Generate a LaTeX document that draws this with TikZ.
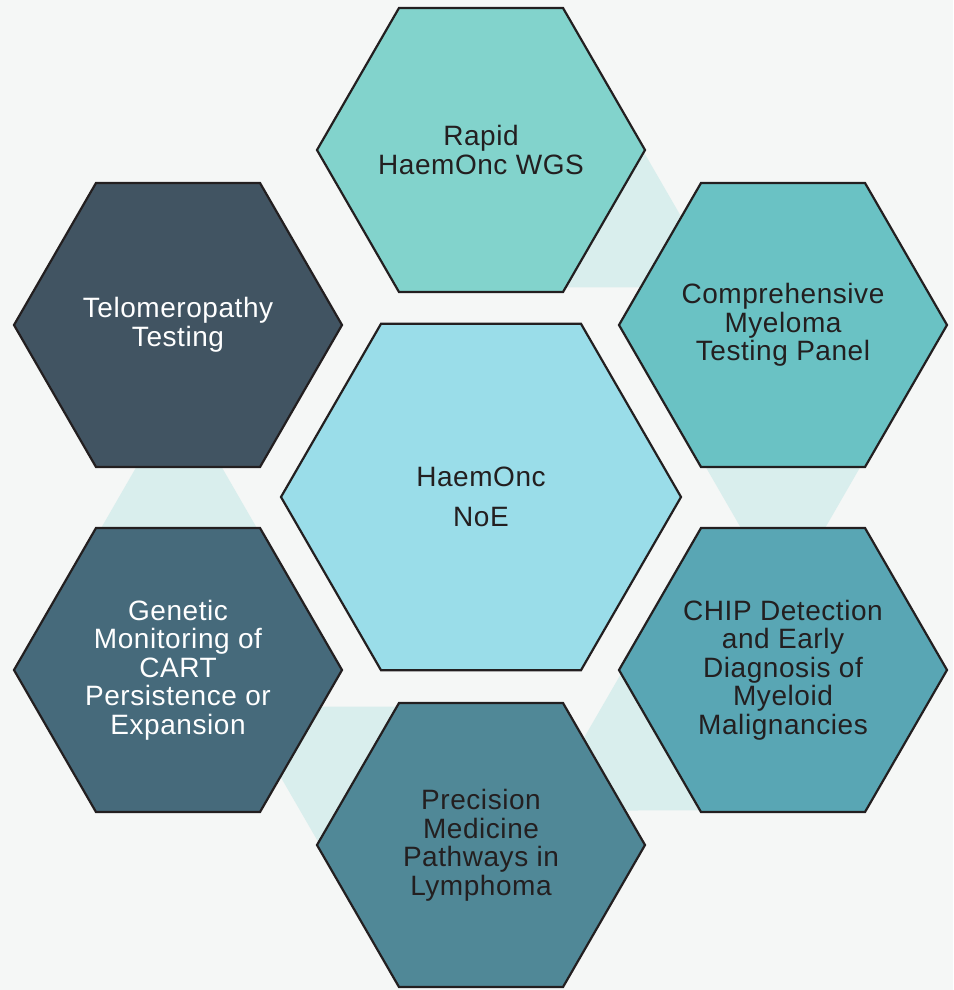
\documentclass[tikz,border=0pt]{standalone}
\usepackage{fontspec}
\setmainfont{Liberation Sans}[LetterSpace=2]
\definecolor{bgc}{HTML}{F5F7F6}
\definecolor{bandc}{HTML}{D9EEED}
\definecolor{outl}{HTML}{231F20}
\definecolor{txtdark}{HTML}{231F20}
\definecolor{crapid}{HTML}{82D3CC}
\definecolor{ccomp}{HTML}{6AC2C4}
\definecolor{cchip}{HTML}{59A6B4}
\definecolor{cprec}{HTML}{508897}
\definecolor{cgen}{HTML}{466A7B}
\definecolor{ctelo}{HTML}{415462}
\definecolor{ccenter}{HTML}{9ADDE9}
% hexagon with flat top and bottom: centre x, centre y, radius, fill colour
\newcommand{\hexagonAt}[4]{%
  \draw[hexline, fill=#4] (#1,#2) +(-#3,0) -- +({-0.5*#3},{-0.8660254*#3})
    -- +({0.5*#3},{-0.8660254*#3}) -- +(#3,0) -- +({0.5*#3},{0.8660254*#3})
    -- +({-0.5*#3},{0.8660254*#3}) -- cycle;}
\begin{document}
\begin{tikzpicture}[x=1pt,y=-1pt,
  hexline/.style={draw=outl, line width=2.2pt, line join=miter},
  hextext/.style={align=center, inner sep=0pt,
    font=\fontsize{28}{28.5}\selectfont, text=txtdark},
  hubtext/.style={hextext, font=\fontsize{28}{39.5}\selectfont},
  bandtri/.style={fill=bandc, draw=none}]
\fill[bgc] (0,0) rectangle (953,990);
\useasboundingbox (0,0) rectangle (953,990);
% light connector triangles between neighbouring hexagons
\foreach \a in {0,-120,180,120,60}{
  \fill[bandtri, rotate around={\a:(481,497)}] (179,393) -- (100,530) -- (258,530) -- cycle;
}
% hexagons
\hexagonAt{481}{150}{164}{crapid}
\hexagonAt{783}{325}{164}{ccomp}
\hexagonAt{783}{670}{164}{cchip}
\hexagonAt{481}{845}{164}{cprec}
\hexagonAt{178}{670}{164}{cgen}
\hexagonAt{178}{325}{164}{ctelo}
\hexagonAt{481}{497}{200}{ccenter}
% texts
\node[hextext] (rapid) at (481,150) {Rapid\\HaemOnc WGS};
\node[hextext] (comp) at (783,325) {Comprehensive\\Myeloma\\Testing Panel};
\node[hextext] (chip) at (783,670) {CHIP Detection\\and Early\\Diagnosis of\\Myeloid\\Malignancies};
\node[hextext] (prec) at (481,845) {Precision\\Medicine\\Pathways in\\Lymphoma};
\node[hextext, text=white] (gen) at (178,670) {Genetic\\Monitoring of\\CART\\Persistence or\\Expansion};
\node[hextext, text=white] (telo) at (178,325) {Telomeropathy\\Testing};
\node[hubtext] (hub) at (481,497) {HaemOnc\\NoE};
\end{tikzpicture}
\end{document}
